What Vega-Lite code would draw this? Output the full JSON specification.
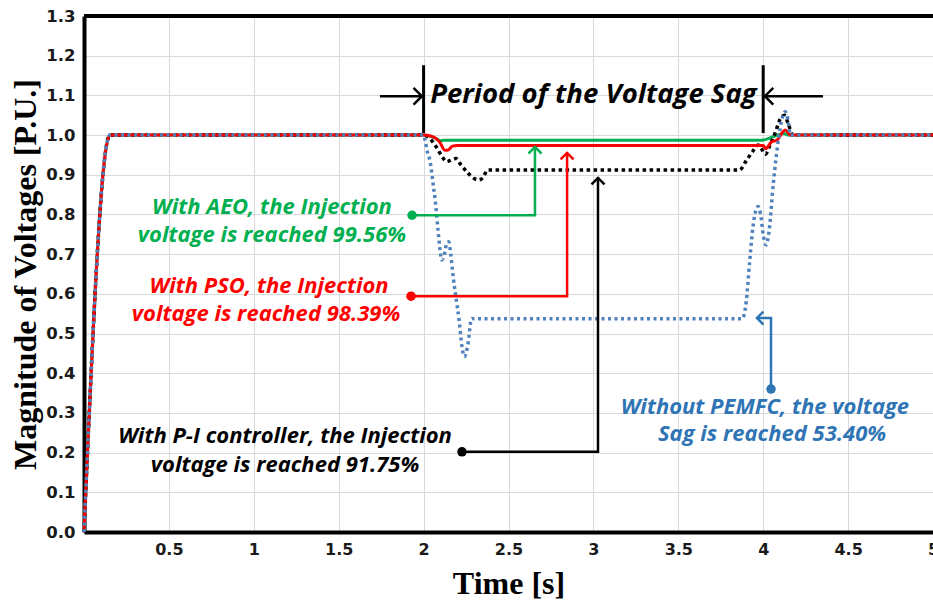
{
  "$schema": "https://vega.github.io/schema/vega-lite/v6.json",
  "width": 849,
  "height": 516,
  "autosize": {"type": "none"},
  "padding": {"left": 84, "top": 16, "right": 0, "bottom": 76},
  "background": "white",
  "config": {"view": {"stroke": null}},
  "datasets": {
    "series": [
      {"s": "AEO", "t": 0, "v": 0}, {"s": "AEO", "t": 0.153, "v": 1.0}, {"s": "AEO", "t": 2.0, "v": 1.0}, {"s": "AEO", "t": 2.06, "v": 0.994}, {"s": "AEO", "t": 2.1, "v": 0.986}, {"s": "AEO", "t": 2.12, "v": 0.987}, {"s": "AEO", "t": 3.99, "v": 0.987}, {"s": "AEO", "t": 4.06, "v": 0.996}, {"s": "AEO", "t": 4.12, "v": 1.004}, {"s": "AEO", "t": 4.15, "v": 1.0}, {"s": "AEO", "t": 5, "v": 1.0},
      {"s": "PSO", "t": 0, "v": 0}, {"s": "PSO", "t": 0.153, "v": 1.0}, {"s": "PSO", "t": 2.0, "v": 1.0}, {"s": "PSO", "t": 2.06, "v": 0.995}, {"s": "PSO", "t": 2.094, "v": 0.983}, {"s": "PSO", "t": 2.125, "v": 0.962}, {"s": "PSO", "t": 2.14, "v": 0.962}, {"s": "PSO", "t": 2.17, "v": 0.972}, {"s": "PSO", "t": 2.2, "v": 0.974}, {"s": "PSO", "t": 4.0, "v": 0.974}, {"s": "PSO", "t": 4.014, "v": 0.966}, {"s": "PSO", "t": 4.05, "v": 0.983}, {"s": "PSO", "t": 4.08, "v": 0.987}, {"s": "PSO", "t": 4.13, "v": 1.013}, {"s": "PSO", "t": 4.16, "v": 1.0}, {"s": "PSO", "t": 5, "v": 1.0},
      {"s": "PI", "t": 0, "v": 0}, {"s": "PI", "t": 0.153, "v": 1.0}, {"s": "PI", "t": 2.0, "v": 1.0}, {"s": "PI", "t": 2.04, "v": 0.99}, {"s": "PI", "t": 2.075, "v": 0.97}, {"s": "PI", "t": 2.11, "v": 0.945}, {"s": "PI", "t": 2.1375, "v": 0.933}, {"s": "PI", "t": 2.165, "v": 0.938}, {"s": "PI", "t": 2.19, "v": 0.941}, {"s": "PI", "t": 2.22, "v": 0.925}, {"s": "PI", "t": 2.26, "v": 0.905}, {"s": "PI", "t": 2.3, "v": 0.89}, {"s": "PI", "t": 2.325, "v": 0.887}, {"s": "PI", "t": 2.35, "v": 0.893}, {"s": "PI", "t": 2.377, "v": 0.912}, {"s": "PI", "t": 3.86, "v": 0.912}, {"s": "PI", "t": 3.9, "v": 0.935}, {"s": "PI", "t": 3.94, "v": 0.96}, {"s": "PI", "t": 3.97, "v": 0.975}, {"s": "PI", "t": 3.99, "v": 0.965}, {"s": "PI", "t": 4.014, "v": 0.952}, {"s": "PI", "t": 4.04, "v": 0.975}, {"s": "PI", "t": 4.07, "v": 1.005}, {"s": "PI", "t": 4.1, "v": 1.04}, {"s": "PI", "t": 4.125, "v": 1.05}, {"s": "PI", "t": 4.15, "v": 1.025}, {"s": "PI", "t": 4.175, "v": 1.0}, {"s": "PI", "t": 5, "v": 1.0},
      {"s": "NoPEMFC", "t": 0, "v": 0}, {"s": "NoPEMFC", "t": 0.153, "v": 1.0}, {"s": "NoPEMFC", "t": 2.0, "v": 1.0}, {"s": "NoPEMFC", "t": 2.01, "v": 0.985}, {"s": "NoPEMFC", "t": 2.02, "v": 0.962}, {"s": "NoPEMFC", "t": 2.04, "v": 0.93}, {"s": "NoPEMFC", "t": 2.055, "v": 0.88}, {"s": "NoPEMFC", "t": 2.07, "v": 0.83}, {"s": "NoPEMFC", "t": 2.085, "v": 0.76}, {"s": "NoPEMFC", "t": 2.1, "v": 0.7}, {"s": "NoPEMFC", "t": 2.106, "v": 0.685}, {"s": "NoPEMFC", "t": 2.12, "v": 0.695}, {"s": "NoPEMFC", "t": 2.135, "v": 0.725}, {"s": "NoPEMFC", "t": 2.148, "v": 0.731}, {"s": "NoPEMFC", "t": 2.16, "v": 0.7}, {"s": "NoPEMFC", "t": 2.175, "v": 0.64}, {"s": "NoPEMFC", "t": 2.19, "v": 0.593}, {"s": "NoPEMFC", "t": 2.21, "v": 0.53}, {"s": "NoPEMFC", "t": 2.225, "v": 0.47}, {"s": "NoPEMFC", "t": 2.24, "v": 0.442}, {"s": "NoPEMFC", "t": 2.26, "v": 0.47}, {"s": "NoPEMFC", "t": 2.283, "v": 0.538}, {"s": "NoPEMFC", "t": 2.3, "v": 0.537}, {"s": "NoPEMFC", "t": 3.876, "v": 0.537}, {"s": "NoPEMFC", "t": 3.9, "v": 0.58}, {"s": "NoPEMFC", "t": 3.92, "v": 0.68}, {"s": "NoPEMFC", "t": 3.94, "v": 0.77}, {"s": "NoPEMFC", "t": 3.96, "v": 0.815}, {"s": "NoPEMFC", "t": 3.97, "v": 0.82}, {"s": "NoPEMFC", "t": 3.985, "v": 0.8}, {"s": "NoPEMFC", "t": 4.0, "v": 0.75}, {"s": "NoPEMFC", "t": 4.017, "v": 0.723}, {"s": "NoPEMFC", "t": 4.035, "v": 0.76}, {"s": "NoPEMFC", "t": 4.06, "v": 0.88}, {"s": "NoPEMFC", "t": 4.09, "v": 0.99}, {"s": "NoPEMFC", "t": 4.11, "v": 1.04}, {"s": "NoPEMFC", "t": 4.13, "v": 1.059}, {"s": "NoPEMFC", "t": 4.145, "v": 1.04}, {"s": "NoPEMFC", "t": 4.16, "v": 1.0}, {"s": "NoPEMFC", "t": 5, "v": 1.0}
    ],
    "frame": [
      {"v": 1.3}
    ],
    "conn": [
      {"id": "g", "o": 1, "t": 1.932, "v": 0.798, "c": "AEO"}, {"id": "g", "o": 2, "t": 2.656, "v": 0.798, "c": "AEO"}, {"id": "g", "o": 3, "t": 2.656, "v": 0.972, "c": "AEO"},
      {"id": "r", "o": 1, "t": 1.926, "v": 0.594, "c": "PSO"}, {"id": "r", "o": 2, "t": 2.845, "v": 0.594, "c": "PSO"}, {"id": "r", "o": 3, "t": 2.845, "v": 0.957, "c": "PSO"},
      {"id": "k", "o": 1, "t": 2.226, "v": 0.202, "c": "PI"}, {"id": "k", "o": 2, "t": 3.027, "v": 0.202, "c": "PI"}, {"id": "k", "o": 3, "t": 3.027, "v": 0.894, "c": "PI"},
      {"id": "b", "o": 1, "t": 4.046, "v": 0.36, "c": "NoPEMFC"}, {"id": "b", "o": 2, "t": 4.046, "v": 0.539, "c": "NoPEMFC"}, {"id": "b", "o": 3, "t": 3.963, "v": 0.539, "c": "NoPEMFC"},
      {"id": "pl", "o": 1, "t": 1.743, "v": 1.098, "c": "period"}, {"id": "pl", "o": 2, "t": 1.99, "v": 1.098, "c": "period"},
      {"id": "pr", "o": 1, "t": 4.352, "v": 1.098, "c": "period"}, {"id": "pr", "o": 2, "t": 4.01, "v": 1.098, "c": "period"}
    ],
    "arrows": [
      {"k": "up", "t": 2.656, "v": 0.97, "c": "AEO"},
      {"k": "up", "t": 2.845, "v": 0.955, "c": "PSO"},
      {"k": "up", "t": 3.027, "v": 0.892, "c": "PI"},
      {"k": "left", "t": 3.963, "v": 0.539, "c": "NoPEMFC"},
      {"k": "pright", "t": 1.99, "v": 1.098, "c": "period"},
      {"k": "pleft", "t": 4.01, "v": 1.098, "c": "period"}
    ],
    "dots": [
      {"t": 1.932, "v": 0.798, "c": "AEO"},
      {"t": 1.926, "v": 0.594, "c": "PSO"},
      {"t": 2.226, "v": 0.202, "c": "PI"},
      {"t": 4.046, "v": 0.36, "c": "NoPEMFC"}
    ],
    "labels": [
      {"t": 1.107, "v": 0.818, "c": "AEO", "txt": "With AEO, the Injection"},
      {"t": 1.107, "v": 0.749, "c": "AEO", "txt": "voltage is reached 99.56%"},
      {"t": 1.09, "v": 0.619, "c": "PSO", "txt": "With PSO, the Injection"},
      {"t": 1.072, "v": 0.55, "c": "PSO", "txt": "voltage is reached 98.39%"},
      {"t": 1.184, "v": 0.241, "c": "PI", "txt": "With P-I controller, the Injection"},
      {"t": 1.184, "v": 0.17, "c": "PI", "txt": "voltage is reached 91.75%"},
      {"t": 4.01, "v": 0.316, "c": "NoPEMFC", "txt": "Without PEMFC, the voltage"},
      {"t": 4.052, "v": 0.248, "c": "NoPEMFC", "txt": "Sag is reached 53.40%"}
    ],
    "period": [
      {"t": 3.0, "v": 1.101, "txt": "Period of the Voltage Sag"}
    ],
    "bars": [
      {"t": 2.0, "v": 1.005, "v2": 1.176},
      {"t": 4.0, "v": 1.005, "v2": 1.176}
    ]
  },
  "layer": [
    {
      "data": {"name": "series"},
      "transform": [{"filter": "datum.s == 'AEO'"}],
      "mark": {"type": "line", "color": "#00b050", "strokeWidth": 3, "interpolate": "monotone"},
      "encoding": {
        "x": {
          "field": "t", "type": "quantitative", "title": "Time [s]",
          "scale": {"domain": [0, 5], "nice": false, "zero": false},
          "axis": {
            "values": [0.5, 1, 1.5, 2, 2.5, 3, 3.5, 4, 4.5, 5], "format": "~g",
            "grid": true, "gridColor": "#d9d9d9", "gridWidth": 1, "ticks": false,
            "domainColor": "#000000", "domainWidth": 4, "labelOverlap": false,
            "labelFont": "DejaVu Sans", "labelFontWeight": "bold", "labelFontSize": 16, "labelColor": "#1a1a1a", "labelPadding": 9, "labelFlush": false,
            "titleFont": "Liberation Serif", "titleFontSize": 32, "titleFontWeight": "bold", "titleColor": "#000000", "titlePadding": 11
          }
        },
        "y": {
          "field": "v", "type": "quantitative", "title": "Magnitude of Voltages [P.U.]",
          "scale": {"domain": [0, 1.3], "nice": false, "zero": false},
          "axis": {
            "values": [0, 0.1, 0.2, 0.3, 0.4, 0.5, 0.6, 0.7, 0.8, 0.9, 1, 1.1, 1.2, 1.3], "tickCount": 14, "format": ".1f",
            "grid": true, "gridColor": "#d9d9d9", "gridWidth": 1, "ticks": false,
            "domainColor": "#000000", "domainWidth": 4, "labelOverlap": false,
            "labelFont": "DejaVu Sans", "labelFontWeight": "bold", "labelFontSize": 16.5, "labelColor": "#1a1a1a", "labelPadding": 9, "labelFlush": false,
            "titleFont": "Liberation Serif", "titleFontSize": 32, "titleFontWeight": "bold", "titleColor": "#000000", "titlePadding": 3
          }
        }
      }
    },
    {
      "data": {"name": "frame"},
      "mark": {"type": "rule", "color": "#000000", "strokeWidth": 4},
      "encoding": {"y": {"field": "v", "type": "quantitative", "title": "Magnitude of Voltages [P.U.]"}}
    },
    {
      "data": {"name": "series"},
      "transform": [{"filter": "datum.s == 'PI'"}],
      "mark": {"type": "line", "color": "#000000", "strokeWidth": 3.5, "strokeDash": [3.5, 3.5], "interpolate": "monotone"},
      "encoding": {"x": {"field": "t", "type": "quantitative"}, "y": {"field": "v", "type": "quantitative"}}
    },
    {
      "data": {"name": "series"},
      "transform": [{"filter": "datum.s == 'PSO'"}],
      "mark": {"type": "line", "color": "#ff0000", "strokeWidth": 3, "interpolate": "monotone"},
      "encoding": {"x": {"field": "t", "type": "quantitative"}, "y": {"field": "v", "type": "quantitative"}}
    },
    {
      "data": {"name": "series"},
      "transform": [{"filter": "datum.s == 'NoPEMFC'"}],
      "mark": {"type": "line", "color": "#4f81bd", "strokeWidth": 3.5, "strokeDash": [3, 3.5], "interpolate": "monotone"},
      "encoding": {"x": {"field": "t", "type": "quantitative"}, "y": {"field": "v", "type": "quantitative"}}
    },
    {
      "data": {"name": "bars"},
      "mark": {"type": "rule", "color": "#000000", "strokeWidth": 3},
      "encoding": {"x": {"field": "t", "type": "quantitative"}, "y": {"field": "v", "type": "quantitative"}, "y2": {"field": "v2"}}
    },
    {
      "data": {"name": "conn"},
      "mark": {"type": "line", "strokeWidth": 2.5},
      "encoding": {
        "x": {"field": "t", "type": "quantitative"}, "y": {"field": "v", "type": "quantitative"},
        "detail": {"field": "id"}, "order": {"field": "o"},
        "color": {"field": "c", "type": "nominal", "legend": null, "scale": {"domain": ["AEO", "PSO", "PI", "NoPEMFC", "period"], "range": ["#00b050", "#ff0000", "#000000", "#2f75b5", "#000000"]}}
      }
    },
    {
      "data": {"name": "arrows"},
      "transform": [{"filter": "datum.k == 'up'"}],
      "mark": {"type": "point", "shape": "M -1 -1 L 0 0 L -1 1", "filled": false, "strokeWidth": 2.5, "size": 170, "angle": 270, "opacity": 1},
      "encoding": {
        "x": {"field": "t", "type": "quantitative"}, "y": {"field": "v", "type": "quantitative"},
        "color": {"field": "c", "type": "nominal", "legend": null, "scale": {"domain": ["AEO", "PSO", "PI", "NoPEMFC", "period"], "range": ["#00b050", "#ff0000", "#000000", "#2f75b5", "#000000"]}}
      }
    },
    {
      "data": {"name": "arrows"},
      "transform": [{"filter": "datum.k == 'left'"}],
      "mark": {"type": "point", "shape": "M -1 -1 L 0 0 L -1 1", "filled": false, "strokeWidth": 2.5, "size": 170, "angle": 180, "opacity": 1},
      "encoding": {
        "x": {"field": "t", "type": "quantitative"}, "y": {"field": "v", "type": "quantitative"},
        "color": {"field": "c", "type": "nominal", "legend": null, "scale": {"domain": ["AEO", "PSO", "PI", "NoPEMFC", "period"], "range": ["#00b050", "#ff0000", "#000000", "#2f75b5", "#000000"]}}
      }
    },
    {
      "data": {"name": "arrows"},
      "transform": [{"filter": "datum.k == 'pright'"}],
      "mark": {"type": "point", "shape": "M -1 -1 L 0 0 L -1 1", "filled": false, "strokeWidth": 2.5, "size": 280, "angle": 0, "opacity": 1, "color": "#000000"},
      "encoding": {"x": {"field": "t", "type": "quantitative"}, "y": {"field": "v", "type": "quantitative"}}
    },
    {
      "data": {"name": "arrows"},
      "transform": [{"filter": "datum.k == 'pleft'"}],
      "mark": {"type": "point", "shape": "M -1 -1 L 0 0 L -1 1", "filled": false, "strokeWidth": 2.5, "size": 280, "angle": 180, "opacity": 1, "color": "#000000"},
      "encoding": {"x": {"field": "t", "type": "quantitative"}, "y": {"field": "v", "type": "quantitative"}}
    },
    {
      "data": {"name": "dots"},
      "mark": {"type": "point", "filled": true, "size": 90, "opacity": 1},
      "encoding": {
        "x": {"field": "t", "type": "quantitative"}, "y": {"field": "v", "type": "quantitative"},
        "color": {"field": "c", "type": "nominal", "legend": null, "scale": {"domain": ["AEO", "PSO", "PI", "NoPEMFC", "period"], "range": ["#00b050", "#ff0000", "#000000", "#2f75b5", "#000000"]}}
      }
    },
    {
      "data": {"name": "labels"},
      "mark": {"type": "text", "font": "Open Sans", "fontStyle": "italic", "fontWeight": "bold", "fontSize": 22, "align": "center", "baseline": "middle"},
      "encoding": {
        "x": {"field": "t", "type": "quantitative"}, "y": {"field": "v", "type": "quantitative"},
        "text": {"field": "txt"},
        "color": {"field": "c", "type": "nominal", "legend": null, "scale": {"domain": ["AEO", "PSO", "PI", "NoPEMFC", "period"], "range": ["#00b050", "#ff0000", "#000000", "#2f75b5", "#000000"]}}
      }
    },
    {
      "data": {"name": "period"},
      "mark": {"type": "text", "font": "Open Sans", "fontStyle": "italic", "fontWeight": "bold", "fontSize": 27.5, "align": "center", "baseline": "middle", "color": "#000000"},
      "encoding": {"x": {"field": "t", "type": "quantitative"}, "y": {"field": "v", "type": "quantitative"}, "text": {"field": "txt"}}
    }
  ]
}
